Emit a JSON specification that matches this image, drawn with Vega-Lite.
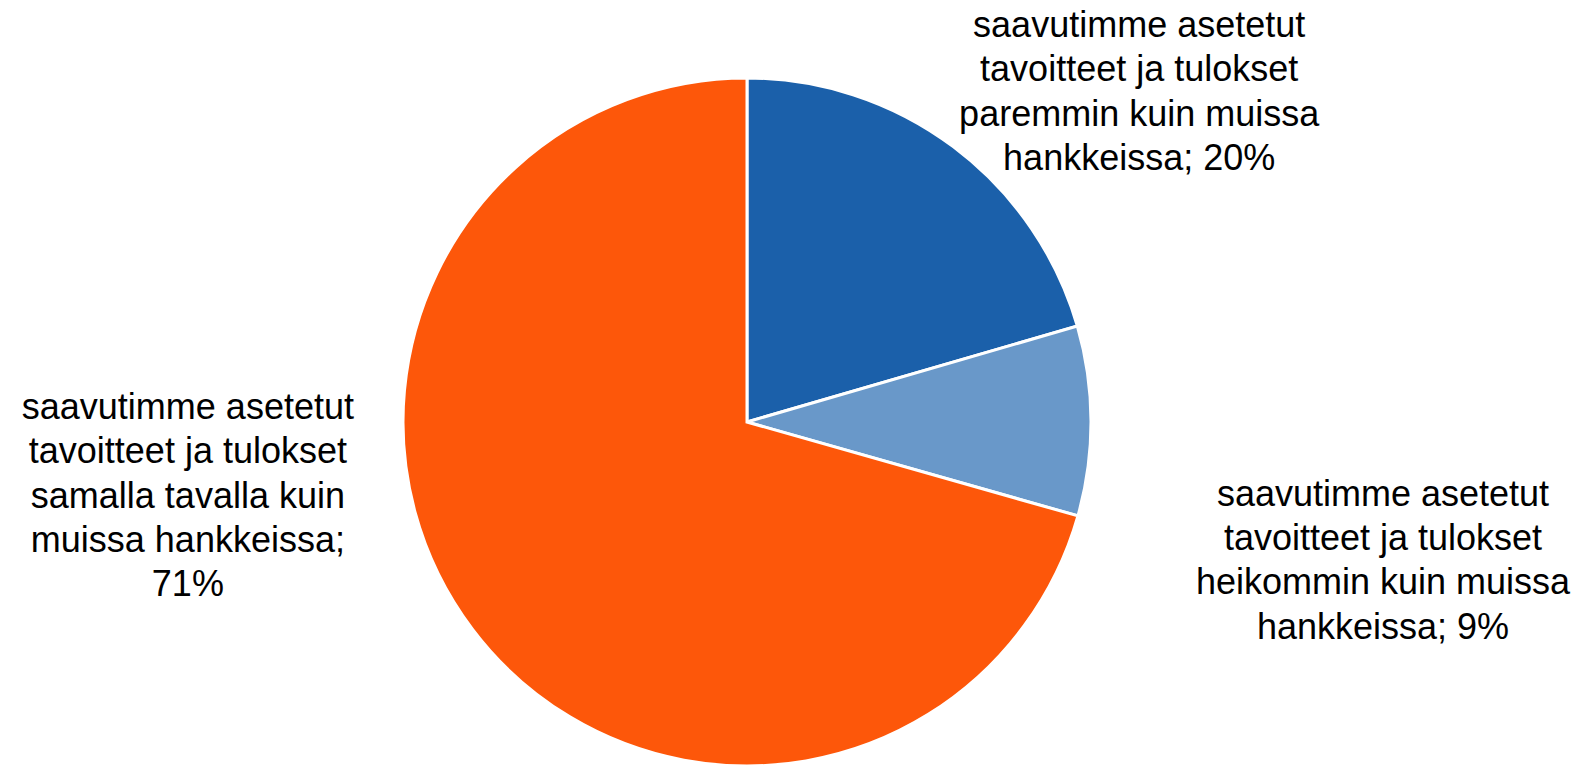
{
  "$schema": "https://vega.github.io/schema/vega-lite/v6.json",
  "width": 1494,
  "height": 688,
  "padding": {"left": 0, "top": 78, "right": 94, "bottom": 0},
  "autosize": {"type": "none"},
  "background": "#ffffff",
  "config": {"view": {"stroke": null}},
  "data": {
    "values": [
      {"idx": 1, "category": "paremmin", "value": 20.5, "label": ["saavutimme asetetut", "tavoitteet ja tulokset", "paremmin kuin muissa", "hankkeissa; 20%"]},
      {"idx": 2, "category": "heikommin", "value": 8.9, "label": ["saavutimme asetetut", "tavoitteet ja tulokset", "heikommin kuin muissa", "hankkeissa; 9%"]},
      {"idx": 3, "category": "samalla", "value": 70.6, "label": ["saavutimme asetetut", "tavoitteet ja tulokset", "samalla tavalla kuin", "muissa hankkeissa;", "71%"]}
    ]
  },
  "encoding": {
    "theta": {"field": "value", "type": "quantitative", "stack": true},
    "order": {"field": "idx", "type": "quantitative"}
  },
  "layer": [
    {
      "mark": {"type": "arc", "stroke": "#ffffff", "strokeWidth": 3},
      "encoding": {
        "color": {
          "field": "category",
          "type": "nominal",
          "scale": {"domain": ["paremmin", "heikommin", "samalla"], "range": ["#1b60aa", "#6998c9", "#fd570a"]},
          "legend": null
        }
      }
    },
    {
      "mark": {"type": "text", "radius": 420, "dx": 140, "dy": -60, "align": "center", "baseline": "middle", "font": "Liberation Sans", "fontSize": 36, "lineHeight": 44.2, "color": "#000000"},
      "encoding": {
        "detail": {"field": "category", "type": "nominal"},
        "text": {"condition": {"test": "datum.idx == 1", "field": "label"}, "value": ""}
      }
    },
    {
      "mark": {"type": "text", "radius": 633, "dx": 3, "dy": 75, "align": "center", "baseline": "middle", "font": "Liberation Sans", "fontSize": 36, "lineHeight": 44.2, "color": "#000000"},
      "encoding": {
        "detail": {"field": "category", "type": "nominal"},
        "text": {"condition": {"test": "datum.idx == 2", "field": "label"}, "value": ""}
      }
    },
    {
      "mark": {"type": "text", "radius": 400, "dx": -240, "dy": -255, "align": "center", "baseline": "middle", "font": "Liberation Sans", "fontSize": 36, "lineHeight": 44.2, "color": "#000000"},
      "encoding": {
        "detail": {"field": "category", "type": "nominal"},
        "text": {"condition": {"test": "datum.idx == 3", "field": "label"}, "value": ""}
      }
    }
  ]
}
